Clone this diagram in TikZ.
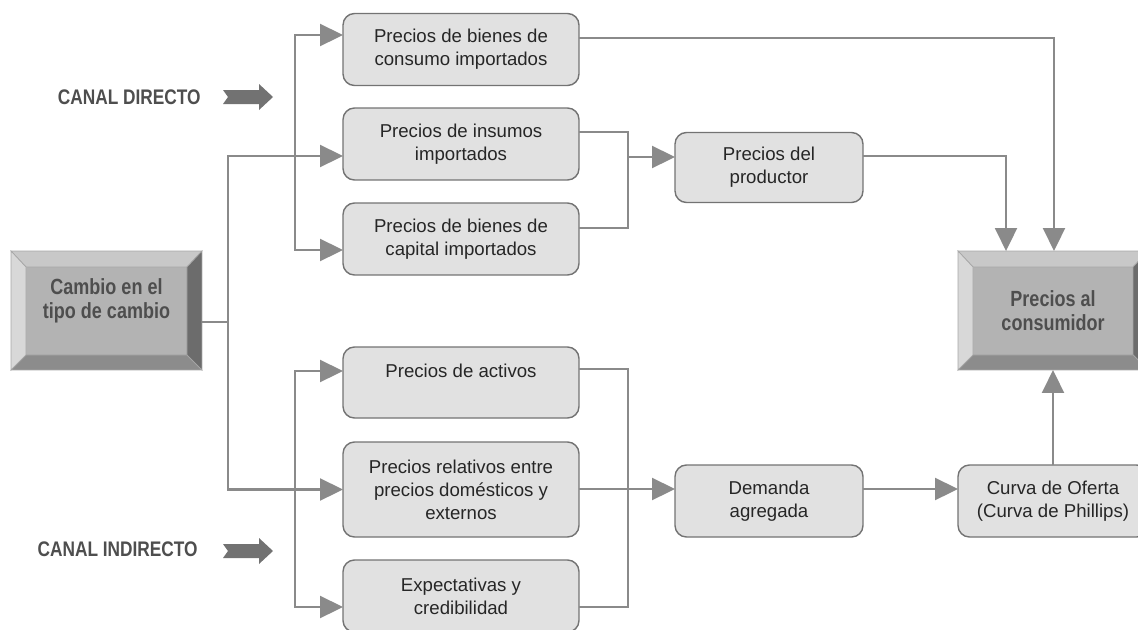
\documentclass[tikz,border=0pt]{standalone}
\usepackage{fontspec}
\setmainfont{Liberation Sans}
\newfontfamily\condfont{Liberation Sans}[FakeStretch=0.82]
\usepackage{tikz}
\usetikzlibrary{arrows.meta}
\usetikzlibrary{calc}
\definecolor{linegray}{HTML}{8A8A8A}
\definecolor{boxfill}{HTML}{E1E1E1}
\definecolor{boxdraw}{HTML}{737373}
\definecolor{boxtext}{HTML}{262626}
\definecolor{bevmid}{HTML}{B3B3B3}
\definecolor{bevtop}{HTML}{C8C8C8}
\definecolor{bevleft}{HTML}{D8D8D8}
\definecolor{bevright}{HTML}{6C6C6C}
\definecolor{bevbot}{HTML}{8C8C8C}
\definecolor{bevtext}{HTML}{4E4E4E}
\definecolor{canalgray}{HTML}{727272}
\tikzset{pbox/.style = {draw = boxdraw, fill = boxfill, line width = 0.8pt, rounded corners = 6.5pt,
    inner sep = 0, outer sep = 0, align = center, text = boxtext,
    font = \fontsize{10.6}{13}\selectfont, minimum width = 4.72cm, minimum height = 1.44cm}}
\tikzset{bevbox/.style = {fill = bevmid, inner sep = 0, outer sep = 0, align = center, text = bevtext,
    font = \condfont\bfseries\fontsize{12.5}{13.5}\selectfont, minimum width = 3.8cm, minimum height = 2.38cm}}
\tikzset{bevedge/.style = {draw = gray!70, line width = 0.4pt}}
\tikzset{link/.style = {draw = linegray, line width = 1.2pt}}
\tikzset{arr/.style = {link, -{Triangle[length = 0.46cm, width = 0.44cm]}}}
\tikzset{canal/.style = {text = bevtext, font = \condfont\bfseries\fontsize{12}{13}\selectfont, inner sep = 0}}

\begin{document}
\begin{tikzpicture}[x = 0.02cm, y = -0.02cm]
  \useasboundingbox (0, 0) rectangle (1138, 629);

  % cajas
  \node [bevbox, minimum width = 3.82cm] (K) at (106.5, 310.5) {Cambio en el\\tipo de cambio\\~};
  \node [bevbox] (J) at (1053, 310.5) {Precios al\\consumidor};
  \foreach \b in {K, J} {
    \fill [bevtop, bevedge] (\b.north west) -- (\b.north east) -- ([shift = {(-15, 16)}]\b.north east)
      -- ([shift = {(15, 16)}]\b.north west) -- cycle;
    \fill [bevleft, bevedge] (\b.north west) -- ([shift = {(15, 16)}]\b.north west)
      -- ([shift = {(15, -15)}]\b.south west) -- (\b.south west) -- cycle;
    \fill [bevright, bevedge] (\b.north east) -- ([shift = {(-15, 16)}]\b.north east)
      -- ([shift = {(-15, -15)}]\b.south east) -- (\b.south east) -- cycle;
    \fill [bevbot, bevedge] (\b.south west) -- ([shift = {(15, -15)}]\b.south west)
      -- ([shift = {(-15, -15)}]\b.south east) -- (\b.south east) -- cycle;
  }

  \node [pbox] (A) at (461, 49.5) {Precios de bienes de\\consumo importados};
  \node [pbox] (B) at (461, 144) {Precios de insumos\\importados};
  \node [pbox] (C) at (461, 239) {Precios de bienes de\\capital importados};
  \node [pbox, minimum height = 1.42cm] (D) at (461, 382.5) {Precios de activos\\~};
  \node [pbox, minimum height = 1.9cm] (E) at (461, 489.5) {Precios relativos entre\\precios dom\'esticos y\\externos};
  \node [pbox] (F) at (461, 596) {Expectativas y\\credibilidad};
  \node [pbox, minimum width = 3.76cm, minimum height = 1.4cm] (G) at (769, 167.5) {Precios del\\productor};
  \node [pbox, minimum width = 3.76cm] (H) at (769, 501) {Demanda\\agregada};
  \node [pbox, minimum width = 3.8cm] (I) at (1053, 501) {Curva de Oferta\\(Curva de Phillips)};

  % canales
  \node [canal, anchor = east] (direct) at (201, 97) {CANAL DIRECTO};
  \node [canal, anchor = east] (indirect) at (198, 549) {CANAL INDIRECTO};
  \foreach \y in {97, 551}
    \fill [canalgray] (223, \y) ++(0, -7) -- ++(36, 0) -- ++(0, -6) -- ++(14, 13) -- ++(-14, 13)
      -- ++(0, -6) -- ++(-36, 0) -- ++(5, -7) -- cycle;

  % conexiones
  \coordinate (jK) at (228, 322);
  \coordinate (jD) at (295, 156);
  \coordinate (jI) at (295, 489);
  \coordinate (jP) at (628, 157);
  \coordinate (jA) at (628, 489);

  \draw [link] (K.east |- jK) -- (jK);
  \draw [arr] (jK) |- ([yshift = -0.24cm]B.west);
  \draw [arr] (jK) |- (E.west);
  \draw [arr] (jD) |- ([yshift = 0.29cm]A.west);
  \draw [arr] (jD) |- ([yshift = -0.22cm]C.west);
  \draw [arr] (jI) |- ([yshift = 0.23cm]D.west);
  \draw [arr] (jI) |- ([yshift = -0.22cm]F.west);

  \draw [link] ([yshift = 0.24cm]B.east) -| (jP) |- ([yshift = 0.22cm]C.east);
  \draw [arr] (jP) -- (G.west |- jP);
  \draw [arr] ([yshift = 0.23cm]A.east) -| ([xshift = 0.02cm]J.north);
  \draw [arr] ([yshift = 0.23cm]G.east) -| ([xshift = -0.94cm]J.north);

  \draw [link] ([yshift = 0.27cm]D.east) -| (jA) |- ([yshift = -0.22cm]F.east);
  \draw [arr] (E.east |- jA) -- (H.west |- jA);
  \draw [arr] (H.east |- jA) -- (I.west |- jA);
  \draw [arr] (I.north) -- (J.south);
\end{tikzpicture}
\end{document}
